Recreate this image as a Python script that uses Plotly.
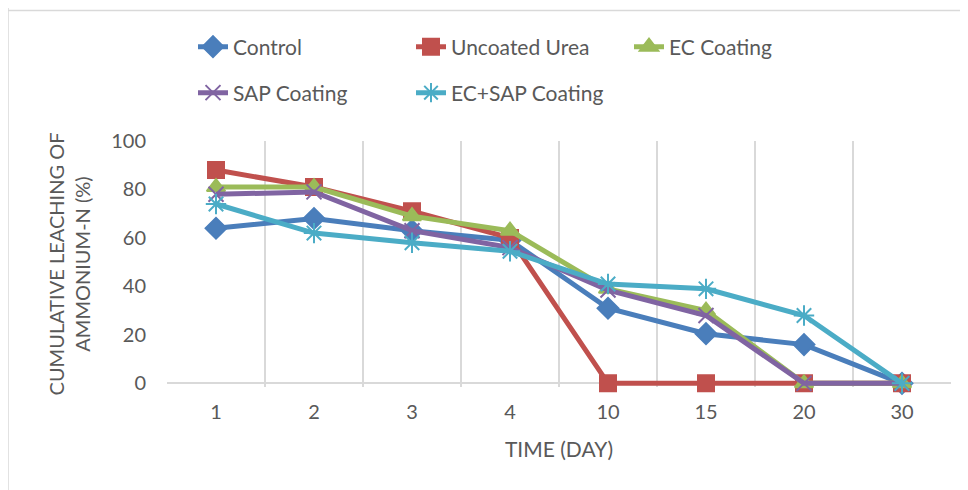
import plotly.graph_objects as go

days = ["1", "2", "3", "4", "10", "15", "20", "30"]
control = [64, 68, 63, 59, 31, 20.5, 16, 0]
uncoated = [88, 81, 71, 60, 0, 0, 0, 0]
ec = [81, 81, 69, 63, 39, 30, 0, 0]
sap = [78, 79, 63, 56, 38.5, 28, 0, 0]
ecsap = [74, 62, 58, 54.5, 41, 39, 28, 0]

names = ["Control", "Uncoated Urea", "EC Coating", "SAP Coating", "EC+SAP Coating"]
series = [control, uncoated, ec, sap, ecsap]
colors = ["#4A7EBB", "#C0504D", "#9BBB59", "#8064A2", "#4BACC6"]
symbols = ["diamond", "square", "triangle-up", "x-thin", "asterisk"]
sizes = [16, 16, 16, 15, 17]
legends = ["legend", "legend", "legend", "legend2", "legend2"]

FONT = "Lato, Liberation Sans, sans-serif"
TXT = "#595959"

# page body has an 8px margin, so the figure is drawn at (8, 8)
W, H = 960, 482
YMIN = -1.5  # small pad so lines lying on 0 are not clipped
PX_PER_UNIT = 2.42
B = 482 - 133 - PX_PER_UNIT * (100 - YMIN)

fig = go.Figure()
for n, s, c, sym, sz, lg in zip(names, series, colors, symbols, sizes, legends):
    fig.add_trace(go.Scatter(
        x=days, y=s, name=n, mode="lines+markers", cliponaxis=False,
        line=dict(color=c, width=5),
        marker=dict(symbol=sym, size=sz, color=c, line=dict(color=c, width=2)),
        legend=lg,
    ))

leg_common = dict(orientation="h", xanchor="left", yanchor="middle",
                  xref="container", yref="container", entrywidth=173,
                  entrywidthmode="pixels", font=dict(size=21, color=TXT),
                  bgcolor="rgba(0,0,0,0)")

fig.update_layout(
    width=W, height=H,
    margin=dict(l=159, r=17, t=133, b=B),
    paper_bgcolor="white", plot_bgcolor="white",
    font=dict(family=FONT, size=20, color=TXT),
    legend=dict(**leg_common, x=185 / W, y=1 - 39 / H),
    legend2=dict(**leg_common, x=185 / W, y=1 - 85 / H),
    xaxis=dict(type="category", tickson="boundaries", showgrid=True, gridcolor="#D9D9D9",
               gridwidth=1.5, showline=False,
               ticks="", range=[-0.5, 7.5], ticklabelstandoff=11,
               title=dict(text="TIME (DAY)", font=dict(size=21, color=TXT), standoff=20),
               tickfont=dict(size=20, color=TXT)),
    yaxis=dict(range=[YMIN, 100], tickvals=[0, 20, 40, 60, 80, 100], showgrid=False,
               zeroline=True, zerolinecolor="#D9D9D9", zerolinewidth=1.5, showline=False,
               ticks="", tickfont=dict(size=20, color=TXT), ticklabelstandoff=20,
               title=dict(text="CUMULATIVE LEACHING OF<br>AMMONIUM-N (%)",
                          font=dict(size=20, color=TXT), standoff=15)),
)

# chart frame lines (top and left), as in the reference
fig.add_shape(type="line", xref="paper", yref="paper", x0=-0.25, x1=1.1,
              y0=1.53, y1=1.53, line=dict(color="#D9D9D9", width=1.5))
fig.add_shape(type="line", xref="paper", yref="paper", x0=-159 / 784, x1=-159 / 784,
              y0=1.7, y1=-0.5, line=dict(color="#D9D9D9", width=1.5))

fig.write_html("out.html")
